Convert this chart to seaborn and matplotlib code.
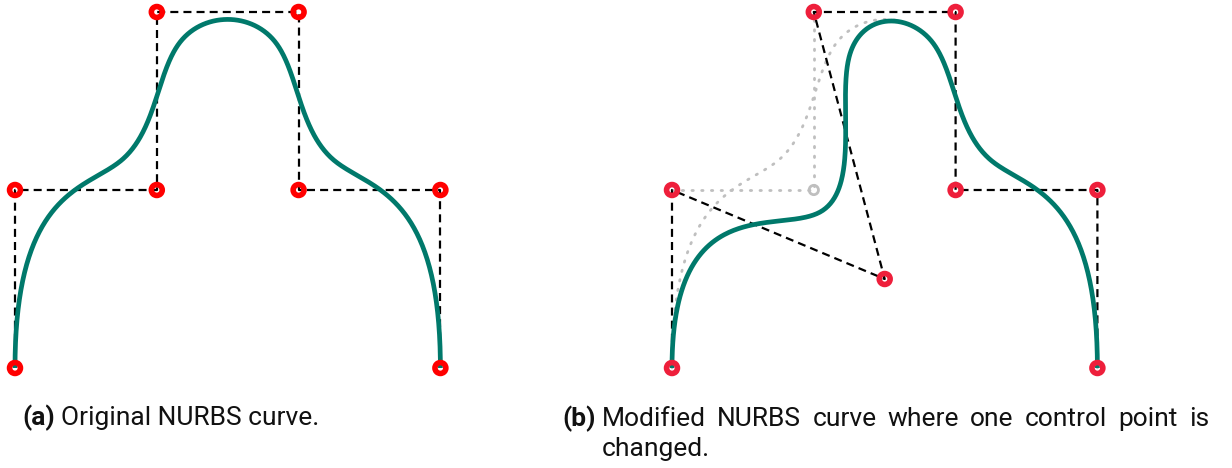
import numpy as np
import pandas as pd
import matplotlib
matplotlib.use("Agg")
import matplotlib.pyplot as plt
import seaborn as sns

sns.set_theme(style="white")
plt.rcParams["font.family"] = ["Roboto", "DejaVu Sans"]

# Control polygon of the original curve
ctrl_x = [0, 0, 1, 1, 2, 2, 3, 3]
ctrl_y = [0, 1, 1, 2, 2, 1, 1, 0]
weights = [1, 1, 1, 1, 1, 1, 1, 1]
knots = [0, 0, 0, 0, 1, 2, 3, 4, 5, 5, 5, 5]
degree = 3

# The control point that gets moved in panel (b)
moved_index = 2
moved_x = 1.5
moved_y = 0.5

caption_a = ["(a)", "Original NURBS curve."]
caption_b_label = "(b)"
caption_b_line1 = ["Modified", "NURBS", "curve", "where", "one", "control", "point", "is"]
caption_b_line2 = "changed."

GREEN = "#00796b"
RED_A = "#ff0000"
RED_B = "#ee1f3b"
GREY = "#bfbfbf"


def basis(i, p, u, t):
    """Cox-de Boor recursion for the B-spline basis N_{i,p}."""
    if p == 0:
        last = t[i + 1] == t[-1] and t[i] < t[i + 1]
        return np.where((u >= t[i]) & ((u < t[i + 1]) | (last & (u == t[i + 1]))), 1.0, 0.0)
    out = np.zeros_like(u)
    d1 = t[i + p] - t[i]
    d2 = t[i + p + 1] - t[i + 1]
    if d1 > 0:
        out += (u - t[i]) / d1 * basis(i, p - 1, u, t)
    if d2 > 0:
        out += (t[i + p + 1] - u) / d2 * basis(i + 1, p - 1, u, t)
    return out


def nurbs(px, py, w, t, p, n=600):
    u = np.linspace(t[0], t[-1], n)
    B = np.array([basis(i, p, u, t) * w[i] for i in range(len(px))])
    den = B.sum(axis=0)
    return B.T @ np.asarray(px, float) / den, B.T @ np.asarray(py, float) / den


# Figure geometry (pixels)
W, H, DPI = 1232, 468, 100
fig = plt.figure(figsize=(W / DPI, H / DPI), dpi=DPI)
sx, sy = 141.8, 178.0          # pixels per data unit
pad = 0.1


def make_axes(x0_px, y0_px):
    left = x0_px - pad * sx
    bottom = H - (y0_px + pad * sy)
    ax = fig.add_axes([left / W, bottom / H, (3 + 2 * pad) * sx / W, (2 + 2 * pad) * sy / H])
    ax.set_xlim(-pad, 3 + pad)
    ax.set_ylim(-pad, 2 + pad)
    ax.set_axis_off()
    return ax


def draw_polygon(ax, px, py, **kw):
    df = pd.DataFrame({"x": px, "y": py})
    sns.lineplot(data=df, x="x", y="y", sort=False, estimator=None, ax=ax, **kw)


def draw_curve(ax, px, py, **kw):
    cx, cy = nurbs(px, py, weights, knots, degree)
    df = pd.DataFrame({"x": cx, "y": cy})
    sns.lineplot(data=df, x="x", y="y", sort=False, estimator=None, ax=ax, **kw)


def draw_points(ax, px, py, color, size, lw, z):
    df = pd.DataFrame({"x": px, "y": py})
    sns.scatterplot(data=df, x="x", y="y", ax=ax, s=size, facecolor="none",
                    edgecolor=color, linewidth=lw, zorder=z, clip_on=False)


dash_kw = dict(color="black", linewidth=1.6, dashes=(3.6, 2.3), zorder=2)
curve_kw = dict(color=GREEN, linewidth=3.4, zorder=3, solid_capstyle="butt")

# Panel (a)
ax_a = make_axes(15, 368)
draw_polygon(ax_a, ctrl_x, ctrl_y, **dash_kw)
draw_curve(ax_a, ctrl_x, ctrl_y, **curve_kw)
draw_points(ax_a, ctrl_x, ctrl_y, RED_A, 62, 4.0, 4)

# Panel (b)
ax_b = make_axes(672, 368)
new_x = list(ctrl_x)
new_y = list(ctrl_y)
new_x[moved_index] = moved_x
new_y[moved_index] = moved_y

dot_kw = dict(color=GREY, linewidth=2.0, dashes=(0.5, 3.0), zorder=1,
              dash_capstyle="round")
draw_polygon(ax_b, ctrl_x[moved_index - 1:moved_index + 2],
             ctrl_y[moved_index - 1:moved_index + 2], **dot_kw)
draw_curve(ax_b, ctrl_x, ctrl_y, **dot_kw)
draw_points(ax_b, [ctrl_x[moved_index]], [ctrl_y[moved_index]], GREY, 45, 2.0, 1.5)

draw_polygon(ax_b, new_x, new_y, **dash_kw)
draw_curve(ax_b, new_x, new_y, **curve_kw)
draw_points(ax_b, new_x, new_y, RED_B, 62, 4.0, 4)

for ax in (ax_a, ax_b):
    for ln in ax.lines:
        ln.set_clip_on(False)

# Captions
FS = 19
renderer = fig.canvas.get_renderer()


def px_text(x, y, s, **kw):
    return fig.text(x / W, 1 - y / H, s, fontsize=FS, color="#111111", va="baseline", **kw)


px_text(22, 425, caption_a[0], fontweight="bold")
px_text(61, 425, caption_a[1])

px_text(562, 426, caption_b_label, fontweight="bold")
line_left, line_right = 602, 1209
words = [px_text(0, 426, w) for w in caption_b_line1]
widths = [t.get_window_extent(renderer).width for t in words]
gap = (line_right - line_left - sum(widths)) / (len(words) - 1)
x = line_left
for t, wd in zip(words, widths):
    t.set_x(x / W)
    x += wd + gap
px_text(line_left, 456, caption_b_line2)

fig.savefig("out.png", dpi=DPI)
